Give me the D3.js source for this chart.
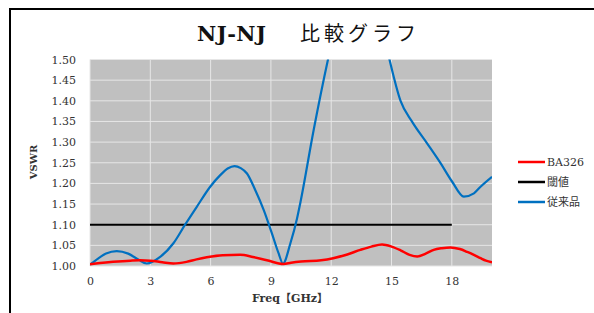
<!DOCTYPE html>
<html><head><meta charset="utf-8">
<script src="https://cdn.jsdelivr.net/npm/d3@7"></script>
<style>body{margin:0;background:#fff}svg{display:block}</style>
</head><body><svg id="c" width="594" height="313"></svg>
<script>
const titleLatin = "NJ-NJ";
const titleJa = "比較グラフ";
const xTicks = [0, 3, 6, 9, 12, 15, 18];
const yTicks = [1.00, 1.05, 1.10, 1.15, 1.20, 1.25, 1.30, 1.35, 1.40, 1.45, 1.50];
const seriesNames = ["BA326", "閾値", "従来品"];
const seriesColors = ["#ff0000", "#000000", "#0070c0"];
// BA326 [freq GHz, VSWR]
const ba326 = [[0,1.004],[0.5,1.007],[1.15,1.010],[2,1.013],[2.49,1.014],[3,1.013],[3.6,1.009],[4.15,1.006],[4.8,1.010],[5.3,1.016],[5.81,1.021],[6.6,1.026],[7.47,1.027],[8.1,1.022],[8.8,1.014],[9.63,1.005],[10,1.008],[10.5,1.011],[11.5,1.014],[12.1,1.019],[12.8,1.028],[13.45,1.039],[14,1.047],[14.53,1.052],[15,1.047],[15.45,1.038],[15.9,1.027],[16.28,1.023],[16.7,1.030],[17.1,1.039],[17.5,1.043],[17.94,1.045],[18.4,1.041],[18.77,1.034],[19.1,1.027],[19.43,1.019],[19.7,1.013],[20,1.009]];
// 閾値
const threshold = [[0,1.10],[18,1.10]];
// 従来品
const conventional = [[0,1.003],[0.4,1.018],[0.8,1.030],[1.33,1.036],[1.9,1.030],[2.4,1.016],[2.82,1.006],[3.49,1.022],[4.15,1.055],[4.73,1.100],[5.32,1.144],[5.98,1.192],[6.48,1.220],[6.85,1.236],[7.19,1.242],[7.5,1.237],[7.81,1.224],[8.22,1.184],[8.64,1.136],[9.05,1.079],[9.38,1.031],[9.6,1.006],[9.97,1.055],[10.3,1.115],[10.46,1.152],[11.13,1.330],[11.84,1.500],[12.5,1.640],[13.3,1.720],[14.1,1.680],[14.9,1.500],[15.45,1.400],[16.03,1.349],[16.77,1.297],[17.44,1.249],[18.02,1.204],[18.6,1.168],[19.1,1.176],[19.43,1.192],[20,1.216]];

const svg = d3.select("#c");
const L = 90, R = 492, T = 59.5, B = 266;
const x = d3.scaleLinear().domain([0, 20]).range([L, R]);
const y = d3.scaleLinear().domain([1.0, 1.5]).range([B, T]);
const serif = "'DejaVu Serif','Liberation Serif','Noto Sans CJK JP',serif";
const cjk = "'Noto Sans CJK JP',sans-serif";

// outer frame
svg.append("rect").attr("x", 10).attr("y", 9).attr("width", 620).attr("height", 330)
  .attr("fill", "#fff").attr("stroke", "#000").attr("stroke-width", 2);

svg.append("defs").append("clipPath").attr("id", "pc")
  .append("rect").attr("x", L).attr("y", T).attr("width", R - L).attr("height", B - T);

svg.append("rect").attr("x", L).attr("y", T).attr("width", R - L).attr("height", B - T).attr("fill", "#c0c0c0");

// grid
svg.append("g").selectAll("line").data(yTicks).join("line")
  .attr("x1", L).attr("x2", R).attr("y1", d => y(d)).attr("y2", d => y(d))
  .attr("stroke", "#e6e6e6").attr("stroke-width", 1);
svg.append("g").selectAll("line").data(xTicks).join("line")
  .attr("x1", d => x(d)).attr("x2", d => x(d)).attr("y1", T).attr("y2", B)
  .attr("stroke", "#e6e6e6").attr("stroke-width", 1);

// axes labels via d3 axes
const xa = svg.append("g").attr("transform", `translate(0,${B + 6})`)
  .call(d3.axisBottom(x).tickValues(xTicks).tickSize(0).tickPadding(5).tickFormat(d3.format("d")));
xa.select(".domain").remove();
xa.selectAll("text").attr("font-family", serif).attr("font-size", 11).attr("fill", "#333");

const ya = svg.append("g").attr("transform", `translate(${L - 14},0)`)
  .call(d3.axisLeft(y).tickValues(yTicks).tickSize(0).tickPadding(0).tickFormat(d3.format(".2f")));
ya.select(".domain").remove();
ya.selectAll("text").attr("font-family", serif).attr("font-size", 11).attr("fill", "#333");

// lines
const line = d3.line().x(d => x(d[0])).y(d => y(d[1])).curve(d3.curveMonotoneX);
const g = svg.append("g").attr("clip-path", "url(#pc)");
g.append("path").datum(threshold).attr("d", line).attr("fill", "none").attr("stroke", seriesColors[1]).attr("stroke-width", 2);
g.append("path").datum(conventional).attr("d", line).attr("fill", "none").attr("stroke", seriesColors[2]).attr("stroke-width", 2.2);
g.append("path").datum(ba326).attr("d", line).attr("fill", "none").attr("stroke", seriesColors[0]).attr("stroke-width", 2.5);

// title
const tt = svg.append("text").attr("y", 41).attr("fill", "#111");
tt.append("tspan").attr("x", 197).attr("font-family", serif).attr("font-size", 21).attr("font-weight", "bold")
  .attr("letter-spacing", 0.5).text(titleLatin);
tt.append("tspan").attr("x", 300).attr("font-family", cjk).attr("font-size", 20).attr("font-weight", 400)
  .attr("letter-spacing", 4).text(titleJa);

// axis titles
svg.append("text").attr("x", 290).attr("y", 302).attr("text-anchor", "middle")
  .attr("font-family", serif).attr("font-size", 11).attr("font-weight", "bold").attr("fill", "#333")
  .text("Freq【GHz】");
svg.append("text").attr("transform", "translate(37,162) rotate(-90)").attr("text-anchor", "middle")
  .attr("font-family", serif).attr("font-size", 10).attr("font-weight", "bold").attr("fill", "#333")
  .text("VSWR");

// legend
const lg = svg.append("g").selectAll("g").data(seriesNames).join("g")
  .attr("transform", (d, i) => `translate(518,${162 + i * 20})`);
lg.append("line").attr("x1", 0).attr("x2", 27).attr("stroke", (d, i) => seriesColors[i]).attr("stroke-width", 2.5);
lg.append("text").attr("x", 29).attr("y", 4).attr("font-family", serif).attr("font-size", 11).attr("fill", "#333").text(d => d);
</script></body></html>
